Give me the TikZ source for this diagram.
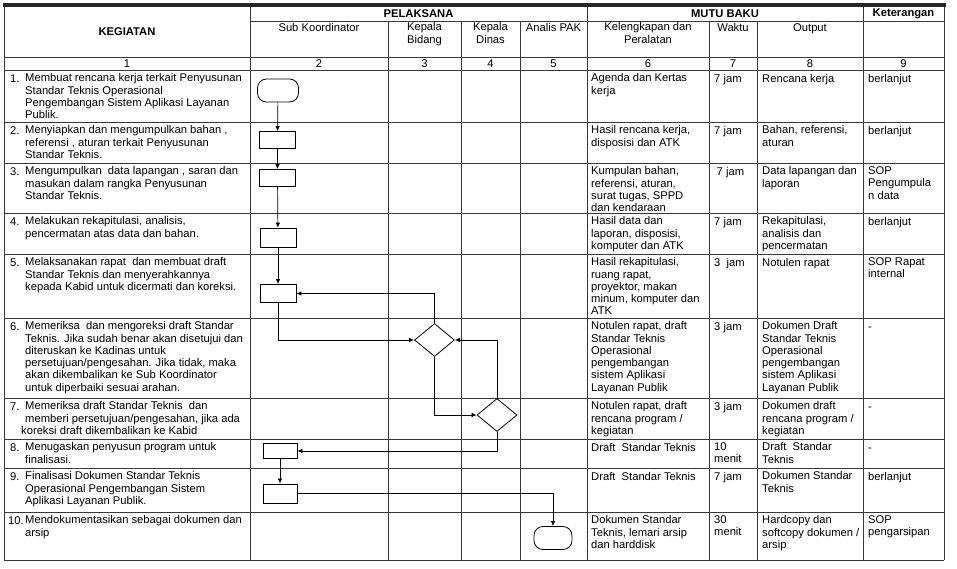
\documentclass[tikz,border=0pt]{standalone}
\usepackage{fontspec}
\setmainfont{Liberation Sans}
\usetikzlibrary{arrows.meta,shapes.geometric}
\newcommand\cellfont{\fontsize{11.2}{12.3}\selectfont}
\begin{document}
\begin{tikzpicture}[x=1pt,y=-1pt,
 gridl/.style={draw=black!78,line width=0.6pt},
 cell/.style={anchor=north west,inner sep=0pt,align=left,font=\cellfont,execute at begin node=\strut},
 hcell/.style={anchor=north,inner sep=0pt,align=center,font=\cellfont,execute at begin node=\strut},
 htitle/.style={inner sep=0pt,font=\cellfont\bfseries},
 numc/.style={inner sep=0pt,font=\cellfont},
 procbox/.style={draw,line width=0.8pt,minimum width=36pt,minimum height=18pt,inner sep=0pt},
 termbox/.style={draw,line width=0.8pt,rounded corners=9pt,minimum width=40pt,minimum height=23pt,inner sep=0pt},
 decbox/.style={draw,shape=diamond,line width=0.8pt,minimum width=40pt,minimum height=33pt,inner sep=0pt},
 flow/.style={line width=0.7pt,-{Latex[length=5pt,width=4.5pt]}}
]
\useasboundingbox (0,0) rectangle (957,568);
% top band
\fill[black!85] (3,2.5) rectangle (946,7);
% grid verticals
\draw[gridl] (4,7) -- (4,560);
\draw[gridl] (944,7) -- (944,560);
\draw[gridl] (250,7) -- (250,560);
\draw[gridl] (587,7) -- (587,560);
\draw[gridl] (863,7) -- (863,560);
\foreach \xx in {388,461,520,709,757} \draw[gridl] (\xx,21) -- (\xx,560);
% grid horizontals
\draw[gridl] (250,21) -- (944,21);
\foreach \yy in {57,70,122,163,213,254,318,398,439,468,512,560} \draw[gridl] (4,\yy) -- (944,\yy);
% header
\node[htitle] (hkeg) at (127,32) {KEGIATAN};
\node[htitle] (hpel) at (418.5,14) {PELAKSANA};
\node[htitle] (hmutu) at (725,14) {MUTU BAKU};
\node[htitle] (hket) at (903.5,14) {Keterangan};
\node[hcell] (hsub) at (319,22.5) {Sub Koordinator};
\node[hcell] (hkb) at (424.5,22.5) {Kepala\\Bidang};
\node[hcell] (hkd) at (490.5,22.5) {Kepala\\Dinas};
\node[hcell] (hap) at (553.5,22.5) {Analis PAK};
\node[hcell] (hkp) at (648,22.5) {Kelengkapan dan\\Peralatan};
\node[hcell] (hw) at (733,22.5) {Waktu};
\node[hcell] (ho) at (810,22.5) {Output};
% numbers
\node[numc] (n1) at (127,63.5) {1};
\node[numc] (n2) at (319,63.5) {2};
\node[numc] (n3) at (424.5,63.5) {3};
\node[numc] (n4) at (490.5,63.5) {4};
\node[numc] (n5) at (553.5,63.5) {5};
\node[numc] (n6) at (648,63.5) {6};
\node[numc] (n7) at (733,63.5) {7};
\node[numc] (n8) at (810,63.5) {8};
\node[numc] (n9) at (903.5,63.5) {9};
% column 1
\node[cell] (k1n) at (10,73.4) {1.};
\node[cell] (k1) at (25,73.4) {Membuat rencana kerja terkait Penyusunan\\Standar Teknis Operasional\\Pengembangan Sistem Aplikasi Layanan\\Publik.};
\node[cell] (k2n) at (10,125.4) {2.};
\node[cell] (k2) at (25,125.4) {Menyiapkan dan mengumpulkan bahan ,\\referensi , aturan terkait Penyusunan\\Standar Teknis.};
\node[cell] (k3n) at (10,166.4) {3.};
\node[cell] (k3) at (25,166.4) {Mengumpulkan\ \ data lapangan , saran dan\\masukan dalam rangka Penyusunan\\Standar Teknis.};
\node[cell] (k4n) at (10,216.4) {4.};
\node[cell] (k4) at (25,216.4) {Melakukan rekapitulasi, analisis,\\pencermatan atas data dan bahan.};
\node[cell] (k5n) at (10,257.4) {5.};
\node[cell] (k5) at (25,257.4) {Melaksanakan rapat\ \ dan membuat draft\\Standar Teknis dan menyerahkannya\\kepada Kabid untuk dicermati dan koreksi.};
\node[cell] (k6n) at (10,321.4) {6.};
\node[cell] (k6) at (25,321.4) {Memeriksa\ \ dan mengoreksi draft Standar\\Teknis. Jika sudah benar akan disetujui dan\\diteruskan ke Kadinas untuk\\persetujuan/pengesahan. Jika tidak, maka\\akan dikembalikan ke Sub Koordinator\\untuk diperbaiki sesuai arahan.};
\node[cell] (k7n) at (10,401.4) {7.};
\node[cell] (k7) at (25,401.4) {Memeriksa draft Standar Teknis\ \ dan\\memberi persetujuan/pengesahan, jika ada\\\hspace*{-4pt}koreksi draft dikembalikan ke Kabid};
\node[cell] (k8n) at (10,442.4) {8.};
\node[cell] (k8) at (25,442.4) {Menugaskan penyusun program untuk\\finalisasi.};
\node[cell] (k9n) at (10,471.4) {9.};
\node[cell] (k9) at (25,471.4) {Finalisasi Dokumen Standar Teknis\\Operasional Pengembangan Sistem\\Aplikasi Layanan Publik.};
\node[cell] (k10n) at (8,515.4) {10.};
\node[cell] (k10) at (25,515.4) {Mendokumentasikan sebagai dokumen dan\\arsip};
% column 6
\node[cell] (m1) at (591,73.4) {Agenda dan Kertas\\kerja};
\node[cell] (m2) at (591,125.4) {Hasil rencana kerja,\\disposisi dan ATK};
\node[cell] (m3) at (591,166.4) {Kumpulan bahan,\\referensi, aturan,\\surat tugas, SPPD\\dan kendaraan};
\node[cell] (m4) at (591,216.4) {Hasil data dan\\laporan, disposisi,\\komputer dan ATK};
\node[cell] (m5) at (591,257.4) {Hasil rekapitulasi,\\ruang rapat,\\proyektor, makan\\minum, komputer dan\\ATK};
\node[cell] (m6) at (591,321.4) {Notulen rapat, draft\\Standar Teknis\\Operasional\\pengembangan\\sistem Aplikasi\\Layanan Publik};
\node[cell] (m7) at (591,401.4) {Notulen rapat, draft\\rencana program /\\kegiatan};
\node[cell] (m8) at (591,442.4) {Draft\ \ Standar Teknis};
\node[cell] (m9) at (591,471.4) {Draft\ \ Standar Teknis};
\node[cell] (m10) at (591,515.4) {Dokumen Standar\\Teknis, lemari arsip\\dan harddisk};
% column 7
\node[cell] (w1) at (714,73.4) {7 jam};
\node[cell] (w2) at (714,125.4) {7 jam};
\node[cell] (w3) at (716.5,166.4) {7 jam};
\node[cell] (w4) at (714,216.4) {7 jam};
\node[cell] (w5) at (714,257.4) {3\ \ jam};
\node[cell] (w6) at (714,321.4) {3 jam};
\node[cell] (w7) at (714,401.4) {3 jam};
\node[cell] (w8) at (714,442.4) {10\\menit};
\node[cell] (w9) at (714,471.4) {7 jam};
\node[cell] (w10) at (714,515.4) {30\\menit};
% column 8
\node[cell] (o1) at (762,73.4) {Rencana kerja};
\node[cell] (o2) at (762,125.4) {Bahan, referensi,\\aturan};
\node[cell] (o3) at (762,166.4) {Data lapangan dan\\laporan};
\node[cell] (o4) at (762,216.4) {Rekapitulasi,\\analisis dan\\pencermatan};
\node[cell] (o5) at (762,257.4) {Notulen rapat};
\node[cell] (o6) at (762,321.4) {Dokumen Draft\\Standar Teknis\\Operasional\\pengembangan\\sistem Aplikasi\\Layanan Publik};
\node[cell] (o7) at (762,401.4) {Dokumen draft\\rencana program /\\kegiatan};
\node[cell] (o8) at (762,442.4) {Draft\ \ Standar\\Teknis};
\node[cell] (o9) at (762,471.4) {Dokumen Standar\\Teknis};
\node[cell] (o10) at (762,515.4) {Hardcopy dan\\softcopy dokumen /\\arsip};
% column 9
\node[cell] (ket1) at (868,73.4) {berlanjut};
\node[cell] (ket2) at (868,125.4) {berlanjut};
\node[cell] (ket3) at (868,166.4) {SOP\\Pengumpula\\n data};
\node[cell] (ket4) at (868,216.4) {berlanjut};
\node[cell] (ket5) at (868,257.4) {SOP Rapat\\internal};
\node[cell] (ket6) at (868,321.4) {-};
\node[cell] (ket7) at (868,401.4) {-};
\node[cell] (ket8) at (868,442.4) {-};
\node[cell] (ket9) at (868,471.4) {berlanjut};
\node[cell] (ket10) at (868,515.4) {SOP\\pengarsipan};
% flow shapes
\node[termbox,minimum width=41pt] (t1) at (278,90.5) {};
\node[procbox,minimum height=17pt] (r2) at (277.5,140) {};
\node[procbox,minimum height=17pt] (r3) at (277.5,178) {};
\node[procbox,minimum height=19pt] (r4) at (278,237.5) {};
\node[procbox] (r5) at (278,293.5) {};
\node[decbox] (d1) at (434.5,340) {};
\node[decbox] (d2) at (497,415) {};
\node[procbox,minimum width=34pt,minimum height=15pt] (r8) at (280,451) {};
\node[procbox,minimum width=34pt,minimum height=19pt] (r9) at (280,493.5) {};
\node[termbox,minimum width=38pt] (t2) at (553,538) {};
% connectors
\draw[flow] (t1) -- (r2);
\draw[flow] (r2) -- (r3);
\draw[flow] (r3) -- (r4);
\draw[flow] (r4) -- (r5);
\draw[flow] (r5.south) |- (d1.west);
\draw[flow] (d1.north) |- (r5.east);
\draw[flow] (d1.south) |- (d2.west);
\draw[flow] (d2.north) |- (d1.east);
\draw[flow] (d2.south) |- (r8.east);
\draw[flow] (r8) -- (r9);
\draw[flow] (r9.east) -| (t2.north);
\end{tikzpicture}
\end{document}
